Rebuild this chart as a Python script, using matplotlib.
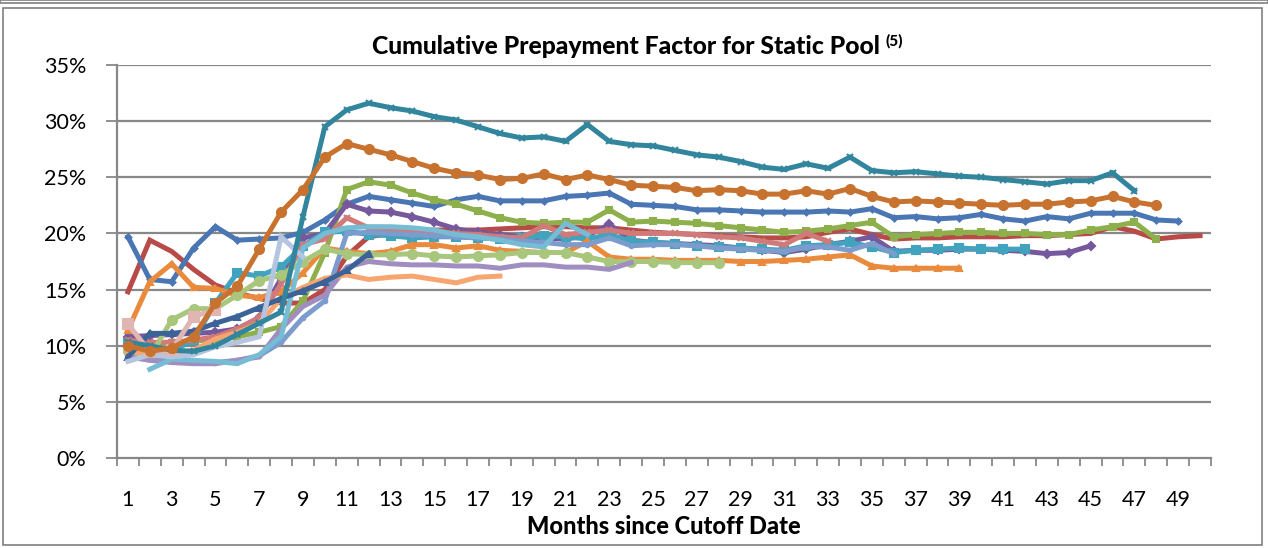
import numpy as np
import matplotlib
matplotlib.use("Agg")
import matplotlib.pyplot as plt
from matplotlib.patches import Rectangle

nan = np.nan
months = np.arange(1, 51)

# cumulative prepayment factor (%) by static pool
red = [14.8, 19.4, 18.4, 16.8, 15.4, 14.7, 14.2, 13.8, 13.8, 15.0, 18.0, 19.7, 20.0, 20.2, 20.3,
       20.3, 20.3, 20.4, 20.5, 20.6, 20.6, 20.5, 20.5, 20.3, 20.1, 20.0, 19.9, 19.8, 19.7, 19.6,
       19.6, 19.7, 20.1, 20.4, 19.9, 19.5, 19.6, 19.6, 19.7, 19.7, 19.7, 19.8, 19.8, 19.9, 20.0,
       20.6, 20.2, 19.5, 19.7, 19.8]
blue = [19.7, 15.9, 15.7, 18.7, 20.6, 19.4, 19.5, 19.6, 20.1, 21.2, 22.6, 23.3, 23.0, 22.7, 22.4,
        23.0, 23.3, 22.9, 22.9, 22.9, 23.3, 23.4, 23.6, 22.6, 22.5, 22.4, 22.1, 22.1, 22.0, 21.9,
        21.9, 21.9, 22.0, 21.9, 22.2, 21.4, 21.5, 21.3, 21.4, 21.7, 21.3, 21.1, 21.5, 21.3, 21.8,
        21.8, 21.8, 21.2, 21.1]
green = [9.8, 9.9, 10.2, 10.4, 10.6, 10.8, 11.2, 11.7, 14.0, 18.3, 23.9, 24.6, 24.3, 23.6, 23.0,
         22.6, 22.0, 21.4, 21.0, 20.9, 21.0, 21.0, 22.1, 21.0, 21.1, 21.0, 20.9, 20.7, 20.5, 20.3,
         20.1, 20.2, 20.4, 20.7, 21.0, 19.7, 19.9, 20.0, 20.1, 20.1, 20.0, 20.0, 19.9, 19.9, 20.3,
         20.6, 21.0, 19.5]
purple = [10.8, 10.9, 11.0, 11.1, 11.2, 11.5, 12.5, 16.0, 19.6, 20.0, 22.6, 22.0, 21.9, 21.5, 21.0,
          20.4, 20.1, 19.9, 19.7, 19.6, 19.5, 19.8, 20.8, 19.4, 19.2, 19.1, 19.0, 18.9, 18.7, 18.5,
          18.3, 18.6, 19.0, 19.3, 19.7, 18.4, 18.5, 18.5, 18.6, 18.6, 18.5, 18.4, 18.2, 18.3, 18.9]
aqua = [10.2, 9.7, 9.5, 10.5, 13.8, 16.5, 16.2, 17.0, 18.9, 20.1, 20.2, 19.9, 19.8, 19.6, 19.7,
        19.7, 19.6, 19.5, 19.6, 19.8, 19.7, 19.5, 19.9, 19.3, 19.2, 19.1, 18.9, 18.8, 18.7, 18.6,
        18.5, 18.9, 19.0, 19.2, 18.8, 18.3, 18.5, 18.6, 18.7, 18.6, 18.6, 18.6]
orange = [11.4, 15.7, 17.3, 15.2, 15.1, 14.5, 14.3, 14.8, 16.5, 18.7, 18.4, 18.2, 18.4, 19.0, 19.0,
          18.7, 18.9, 18.5, 18.4, 18.3, 18.3, 19.3, 17.9, 17.7, 17.7, 17.6, 17.6, 17.6, 17.5, 17.5,
          17.6, 17.7, 17.9, 18.1, 17.1, 16.9, 16.9, 16.9, 16.9]
pink = [10.5, 10.3, 10.3, 10.5, 10.8, 11.5, 12.5, 15.5, 19.0, 19.5, 21.4, 20.5, 20.3, 20.2, 20.1,
        20.0, 19.9, 19.7, 19.6, 20.7, 19.9, 20.1, 20.3, 20.0, 20.0, 20.0, 19.9, 19.7, 19.6, 19.3,
        19.0, 20.0, 19.3]
light_blue = [9.0, 8.8, 8.8, 8.6, 8.5, 8.7, 9.1, 10.3, 12.5, 14.0, 20.0, 20.1, 20.0, 19.9, 19.8,
              19.7, 19.6, 19.5, 19.3, 19.2, 19.0, 19.0, 19.6, 18.9, 19.0, 19.0, 18.9, 18.7, 18.6,
              18.5, 18.4, 18.8, 18.8, 18.5, 19.1, 18.2]
light_green = [9.5, 9.0, 12.3, 13.3, 13.3, 14.5, 15.8, 16.3, 17.5, 18.6, 18.2, 18.1, 18.1, 18.2,
               18.0, 17.9, 18.0, 18.1, 18.3, 18.3, 18.3, 17.9, 17.5, 17.5, 17.5, 17.4, 17.4, 17.4]
light_purple = [9.0, 8.7, 8.5, 8.4, 8.4, 8.7, 9.0, 11.5, 13.5, 14.5, 17.0, 17.5, 17.3, 17.2, 17.2,
                17.1, 17.1, 16.9, 17.2, 17.2, 17.0, 17.0, 16.8, 17.4]
peach = [9.5, 9.3, 9.3, 9.6, 10.6, 11.2, 12.0, 14.2, 15.2, 16.0, 16.3, 15.9, 16.1, 16.2, 15.9,
         15.6, 16.1, 16.2]
sky = [nan, 7.9, 8.8, 8.7, 8.6, 8.4, 9.2, 10.8, 18.7, 20.0, 20.5, 20.6, 20.6, 20.5, 20.3, 19.9,
       19.7, 19.4, 19.0, 18.8, 20.9, 19.9]
navy = [9.0, 11.1, 11.1, 11.3, 12.0, 12.6, 13.4, 14.2, 14.9, 15.7, 16.7, 18.2]
light_steel = [8.6, 9.2, 9.0, 9.2, 9.9, 10.3, 10.8, 19.7, 17.9]
pale_pink = [11.9, 9.5, 9.6, 12.6, 13.2]
teal = [10.3, 10.0, 9.6, 9.5, 10.0, 11.0, 12.0, 13.0, 21.5, 29.5, 31.0, 31.6, 31.2, 30.9, 30.4,
        30.1, 29.5, 28.9, 28.5, 28.6, 28.2, 29.7, 28.2, 27.9, 27.8, 27.4, 27.0, 26.8, 26.4, 25.9,
        25.7, 26.2, 25.8, 26.8, 25.6, 25.4, 25.5, 25.3, 25.1, 25.0, 24.8, 24.6, 24.4, 24.7, 24.7,
        25.4, 23.8]
brown = [10.0, 9.5, 9.8, 10.8, 13.8, 15.3, 18.6, 21.9, 23.9, 26.8, 28.0, 27.5, 27.0, 26.4, 25.8,
         25.4, 25.2, 24.8, 24.9, 25.3, 24.8, 25.2, 24.8, 24.3, 24.2, 24.1, 23.8, 23.9, 23.8, 23.5,
         23.5, 23.8, 23.5, 24.0, 23.3, 22.8, 22.9, 22.8, 22.7, 22.6, 22.5, 22.6, 22.6, 22.8, 22.9,
         23.3, 22.8, 22.5]

series = [
    (red, "#B84A47", None, 0),
    (blue, "#4A76B3", "D", 3),
    (green, "#8DB04C", "s", 5),
    (purple, "#76589C", "D", 4),
    (aqua, "#42A3BE", "s", 6),
    (orange, "#E98A3C", "^", 5),
    (pink, "#D07B79", "x", 4),
    (light_blue, "#7C9CCE", "o", 2.5),
    (light_green, "#A8C67C", "o", 6.5),
    (light_purple, "#A08EC0", None, 0),
    (peach, "#F7A671", None, 0),
    (sky, "#76BCD4", None, 0),
    (navy, "#3B6397", "^", 4.5),
    (light_steel, "#B5C4DF", None, 0),
    (pale_pink, "#E0B5B2", "s", 7),
    (teal, "#31859C", "x", 4),
    (brown, "#C8722F", "o", 6.5),
]

plt.rcParams["font.family"] = ["Lato", "DejaVu Sans"]
fig = plt.figure(figsize=(12.68, 5.48), dpi=100)
ax = fig.add_axes([117 / 1268, 1 - 458 / 548, 1094 / 1268, 393 / 548])

grid_c = "#888888"
for y in range(5, 36, 5):
    ax.axhline(y, color=grid_c, lw=1.6, zorder=0)

for vals, col, mk, ms in series:
    x = months[:len(vals)]
    ax.plot(x, vals, color=col, lw=3.6, marker=mk, ms=ms, mew=1.5,
            solid_joinstyle="miter", zorder=2)

ax.set_xlim(0.5, 50.5)
ax.set_ylim(0, 35)
ax.set_yticks(range(0, 36, 5))
ax.set_yticklabels([f"{v}%" for v in range(0, 36, 5)], fontsize=15.5)
ax.set_xticks(range(1, 50, 2))
ax.set_xticklabels([str(m) for m in range(1, 50, 2)], fontsize=15.5)
ax.set_xticks(np.arange(0.5, 51, 1), minor=True)
ax.tick_params(axis="x", which="major", length=0, pad=23)
ax.tick_params(axis="x", which="minor", length=6, width=1.3, color=grid_c, direction="out")
ax.tick_params(axis="y", length=8, width=1.3, color=grid_c, pad=14)
for s in ["top", "right"]:
    ax.spines[s].set_visible(False)
for s in ["left", "bottom"]:
    ax.spines[s].set_color(grid_c)
    ax.spines[s].set_linewidth(1.6)

ax.set_xlabel("Months since Cutoff Date", fontsize=17, fontweight=900, labelpad=4)

t = fig.text(0.494, 1 - 47 / 548, "Cumulative Prepayment Factor for Static Pool",
             fontsize=17.8, fontweight=900, ha="center", va="center")
fig.canvas.draw()
bb = t.get_window_extent()
fig.text((bb.x1 + 5) / fig.bbox.width, (bb.y1 + 1) / fig.bbox.height, "(5)",
         fontsize=11, fontweight=900, ha="left", va="top")

# chart frame
fig.patches.append(Rectangle((3 / 1268, 3 / 548), 1259 / 1268, 537 / 548,
                             transform=fig.transFigure, fill=False,
                             ec="#7F7F7F", lw=1.2))
fig.patches.append(Rectangle((0, 1 - 3 / 548), 1, 3 / 548, transform=fig.transFigure,
                             fill=False, ec="#7F7F7F", lw=1.2))

fig.savefig("out.png", dpi=100)
